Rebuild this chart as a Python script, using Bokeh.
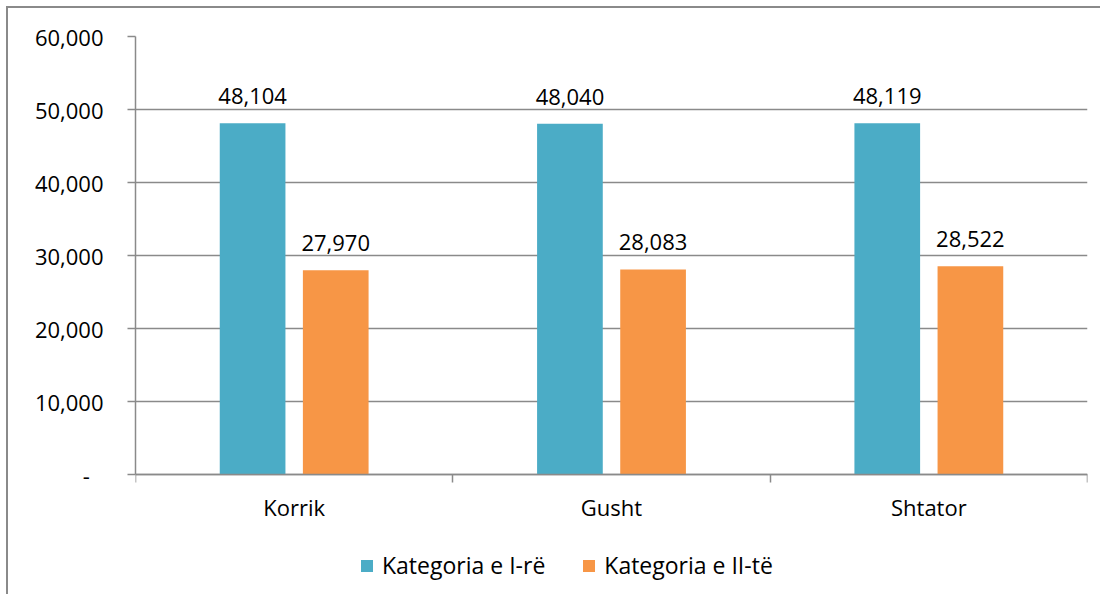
from bokeh.plotting import figure
from bokeh.models import (ColumnDataSource, Range1d, FixedTicker, LabelSet, Legend, LegendItem,
                          CustomJSTickFormatter)
from bokeh.transform import dodge
from bokeh.core.properties import value
from bokeh.embed import file_html
from bokeh.resources import INLINE
import numpy as np

months = ["Korrik", "Gusht", "Shtator"]
series_names = ["Kategoria e I-rë", "Kategoria e II-të"]
cat1 = [48104, 48040, 48119]
cat2 = [27970, 28083, 28522]
y_ticks = [0, 10000, 20000, 30000, 40000, 50000, 60000]

FONT = "Open Sans"
FS = "22px"
GRAY = "#8a8a8a"
BLUE = "#4BACC6"
ORANGE = "#F79646"

W, H = 1100, 594
TOP, LEFT, RIGHT = 36, 135, 13
AXIS_Y = 474                      # pixel row of the value 0
YMAX = y_ticks[-1]
ymin = -YMAX * (H - AXIS_Y) / (AXIS_Y - TOP)   # frame extends to the bottom

xs = np.arange(len(months)) + 0.5
src = ColumnDataSource(dict(
    x=xs, c1=cat1, c2=cat2,
    l1=[f"{v:,}" for v in cat1], l2=[f"{v:,}" for v in cat2],
))

p = figure(width=W, height=H, output_backend="svg", toolbar_location=None,
           x_range=Range1d(0, len(months)), y_range=Range1d(ymin, YMAX),
           min_border_left=LEFT, min_border_right=RIGHT, min_border_top=TOP, min_border_bottom=0)
p.outline_line_color = None
p.background_fill_color = None
p.border_fill_color = None
p.styles = {"box-shadow": "inset 6px 6px 0 0 white, inset 8px 8px 0 0 #8a8a8a"}

off = 0.131
w = 0.207
r1 = p.vbar(x=dodge("x", -off, range=p.x_range), top="c1", width=w, source=src,
            fill_color=BLUE, line_color=None)
r2 = p.vbar(x=dodge("x", off, range=p.x_range), top="c2", width=w, source=src,
            fill_color=ORANGE, line_color=None)

for col, lab, o in (("c1", "l1", -off), ("c2", "l2", off)):
    p.add_layout(LabelSet(x=dodge("x", o, range=p.x_range), y=col, text=lab, source=src,
                          text_align="center", text_baseline="alphabetic", y_offset=19,
                          text_font=value(FONT), text_font_size=FS, text_color="black"))

# y axis
ya = p.yaxis[0]
ya.ticker = FixedTicker(ticks=y_ticks)
ya.bounds = (0, YMAX)
ya.formatter = CustomJSTickFormatter(code="""
if (tick == 0) { return "-\\u00a0\\u00a0\\u200a"; }
return tick.toString().replace(/\\B(?=(\\d{3})+(?!\\d))/g, ",");
""")
ya.major_tick_out = 8
ya.major_tick_in = 0
ya.minor_tick_line_color = None
ya.axis_line_color = GRAY
ya.axis_line_width = 1.5
ya.major_tick_line_color = GRAY
ya.major_tick_line_width = 1.5
ya.major_label_standoff = 24
ya.major_label_text_font = FONT
ya.major_label_text_font_size = FS
ya.major_label_text_color = "black"

p.ygrid[0].ticker = FixedTicker(ticks=y_ticks)
p.ygrid[0].grid_line_color = GRAY
p.ygrid[0].grid_line_width = 1.5
p.xgrid[0].grid_line_color = None

# x axis, drawn at the value 0
xa = p.xaxis[0]
xa.fixed_location = 0
xa.ticker = FixedTicker(ticks=list(xs), minor_ticks=list(range(len(months) + 1)))
xa.major_label_overrides = {float(x): m for x, m in zip(xs, months)}
xa.major_tick_line_color = None
xa.minor_tick_line_color = GRAY
xa.minor_tick_line_width = 1.5
xa.minor_tick_out = 8
xa.minor_tick_in = 0
xa.axis_line_color = GRAY
xa.axis_line_width = 1.5
xa.major_label_standoff = 9
xa.major_label_text_font = FONT
xa.major_label_text_font_size = FS
xa.major_label_text_color = "black"

legend = Legend(items=[LegendItem(label=series_names[0], renderers=[r1]),
                       LegendItem(label=series_names[1], renderers=[r2])],
                orientation="horizontal", location=(224, 13),
                glyph_width=15, glyph_height=15, label_standoff=8, spacing=36,
                label_text_font=FONT, label_text_font_size="23px", label_text_color="black",
                border_line_color=None, background_fill_alpha=0,
                margin=0, padding=0)
p.add_layout(legend, "center")

open("out.html", "w").write(file_html(p, INLINE))
